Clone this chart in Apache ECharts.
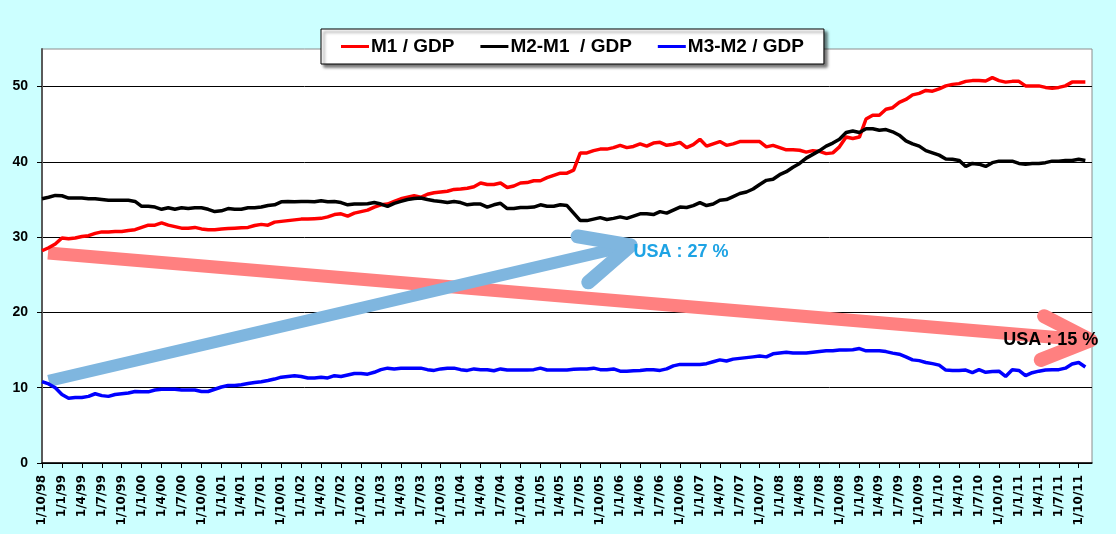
<!DOCTYPE html>
<html>
<head>
<meta charset="utf-8">
<title>M1, M2-M1, M3-M2 / GDP</title>
<script src="https://cdn.jsdelivr.net/npm/echarts@6/dist/echarts.min.js"></script>
<style>
  html, body { margin: 0; padding: 0; background: #ccffff; }
  #chart { width: 1116px; height: 534px; }
</style>
</head>
<body>
<div id="chart"></div>
<script>
// monthly categories, 1/10/98 .. 1/12/11 (label every quarter)
var categories = [];
for (var k = 0; k < 159; k++) {
    var m = (9 + k) % 12 + 1;
    var y = (98 + Math.floor((9 + k) / 12)) % 100;
    categories.push('1/' + m + '/' + (y < 10 ? '0' + y : y));
}

var seriesNames = ['M1 / GDP', 'M2-M1  / GDP', 'M3-M2 / GDP'];

var m1 = [
    28.2, 28.6, 29.1, 29.9, 29.8, 29.9, 30.1, 30.2, 30.5, 30.7, 30.7, 30.75,
    30.75, 30.9, 31.0, 31.3, 31.6, 31.6, 31.9, 31.6, 31.4, 31.2, 31.2, 31.3,
    31.1, 31.0, 31.0, 31.1, 31.15, 31.2, 31.25, 31.3, 31.55, 31.7, 31.6, 32.0,
    32.1, 32.2, 32.3, 32.4, 32.4, 32.45, 32.5, 32.7, 33.0, 33.1, 32.8, 33.2,
    33.4, 33.6, 34.0, 34.3, 34.4, 34.75, 35.1, 35.3, 35.5, 35.3, 35.7, 35.9,
    36.0, 36.1, 36.35, 36.4, 36.5, 36.7, 37.2, 37.0, 37.0, 37.2, 36.6, 36.8,
    37.2, 37.25, 37.5, 37.5, 37.9, 38.2, 38.5, 38.5, 38.9, 41.2, 41.2, 41.5,
    41.7, 41.7, 41.9, 42.2, 41.9, 42.05, 42.4, 42.1, 42.5, 42.6, 42.2, 42.35,
    42.6, 41.9, 42.3, 43.0, 42.1, 42.4, 42.7, 42.2, 42.4, 42.7, 42.7, 42.7,
    42.7, 42.0, 42.2, 41.9, 41.6, 41.6, 41.55, 41.3, 41.5, 41.4, 41.1, 41.2,
    42.0, 43.3, 43.1, 43.3, 45.7, 46.2, 46.2, 47.0, 47.2, 47.9, 48.3, 48.9,
    49.1, 49.5, 49.4, 49.7, 50.1, 50.3, 50.4, 50.7, 50.8, 50.8, 50.75, 51.2,
    50.8, 50.6, 50.7, 50.7, 50.1, 50.1, 50.1, 49.9, 49.8, 49.9, 50.1, 50.6,
    50.6, 50.6
];

var m2m1 = [
    35.1, 35.3, 35.55, 35.5, 35.2, 35.2, 35.2, 35.1, 35.1, 35.0, 34.9, 34.9,
    34.9, 34.9, 34.75, 34.1, 34.1, 34.0, 33.7, 33.9, 33.7, 33.9, 33.8, 33.9,
    33.9, 33.7, 33.4, 33.5, 33.8, 33.7, 33.7, 33.9, 33.9, 34.0, 34.2, 34.3,
    34.7, 34.75, 34.7, 34.75, 34.75, 34.7, 34.85, 34.7, 34.75, 34.6, 34.3, 34.4,
    34.4, 34.45, 34.6, 34.4, 34.1, 34.5, 34.75, 35.0, 35.15, 35.2, 35.0, 34.85,
    34.75, 34.6, 34.75, 34.6, 34.3, 34.4, 34.4, 34.0, 34.3, 34.5, 33.8, 33.8,
    33.95, 33.95, 34.0, 34.3, 34.1, 34.1, 34.3, 34.2, 33.2, 32.2, 32.2, 32.4,
    32.6, 32.35, 32.5, 32.7, 32.5, 32.8, 33.1, 33.1, 33.0, 33.4, 33.2, 33.6,
    34.0, 33.95, 34.2, 34.6, 34.2, 34.4, 34.9, 35.0, 35.4, 35.8, 36.0, 36.4,
    37.0, 37.55, 37.7, 38.3, 38.7, 39.3, 39.8, 40.5, 41.0, 41.5, 42.1, 42.5,
    43.0, 43.9, 44.1, 43.9, 44.4, 44.4, 44.2, 44.3, 44.0, 43.55, 42.8, 42.4,
    42.1, 41.5, 41.2, 40.9, 40.4, 40.35, 40.2, 39.4, 39.8, 39.7, 39.4, 39.9,
    40.1, 40.1, 40.1, 39.8, 39.7, 39.8, 39.8, 39.9, 40.1, 40.1, 40.2, 40.2,
    40.35, 40.2
];

var m3m2 = [
    10.8, 10.5, 10.0, 9.1, 8.6, 8.7, 8.7, 8.85, 9.2, 8.95, 8.85, 9.1,
    9.2, 9.3, 9.5, 9.45, 9.45, 9.7, 9.8, 9.8, 9.8, 9.7, 9.7, 9.7,
    9.5, 9.5, 9.8, 10.1, 10.3, 10.3, 10.4, 10.55, 10.7, 10.8, 10.95, 11.15,
    11.4, 11.5, 11.6, 11.5, 11.3, 11.3, 11.4, 11.3, 11.6, 11.5, 11.7, 11.9,
    11.9, 11.8, 12.05, 12.4, 12.6, 12.5, 12.6, 12.6, 12.6, 12.6, 12.4, 12.3,
    12.5, 12.6, 12.6, 12.4, 12.3, 12.5, 12.4, 12.4, 12.25, 12.5, 12.35, 12.35,
    12.35, 12.35, 12.4, 12.6, 12.35, 12.35, 12.35, 12.35, 12.45, 12.5, 12.5, 12.6,
    12.4, 12.4, 12.5, 12.2, 12.2, 12.25, 12.3, 12.4, 12.4, 12.3, 12.5, 12.9,
    13.1, 13.1, 13.1, 13.1, 13.2, 13.45, 13.7, 13.55, 13.8, 13.9, 14.0, 14.1,
    14.2, 14.1, 14.5, 14.6, 14.7, 14.6, 14.6, 14.6, 14.7, 14.8, 14.9, 14.9,
    15.0, 15.0, 15.05, 15.2, 14.9, 14.9, 14.9, 14.8, 14.6, 14.45, 14.1, 13.7,
    13.6, 13.35, 13.2, 13.0, 12.35, 12.3, 12.3, 12.35, 12.0, 12.4, 12.05, 12.15,
    12.2, 11.5, 12.4, 12.3, 11.6, 12.0, 12.2, 12.35, 12.4, 12.4, 12.6, 13.15,
    13.35, 12.75
];

// annotation arrows, in (month index, value) units
var redArrowShaft = [[0.9, 27.9], [157.6, 16.3]];
var redArrowHead = [[150.8, 19.5], [157.8, 16.3], [150.3, 13.7]];
var blueArrowShaft = [[1.0, 10.9], [88.4, 28.9]];
var blueArrowHead = [[80.6, 30.1], [88.6, 28.9], [82.2, 24.0]];
var arrowLabels = ['USA : 27 %', 'USA : 15 %'];
var arrowLabelAt = [[89.0, 28.0], [151.8, 16.4]];

var chart = echarts.init(document.getElementById('chart'));

function arrow(shaft, head, color, width, headWidth, label, labelAt, labelColor, align) {
    return {
        type: 'custom',
        xAxisIndex: 1,
        z: 1,
        silent: true,
        data: [shaft[0]],
        renderItem: function (params, api) {
            var s = shaft.map(function (p) { return api.coord(p); });
            var h = head.map(function (p) { return api.coord(p); });
            var t = api.coord(labelAt);
            return {
                type: 'group',
                children: [{
                    type: 'polyline',
                    shape: {points: s},
                    style: {stroke: color, lineWidth: width, lineCap: 'butt', fill: null}
                }, {
                    type: 'polyline',
                    shape: {points: h},
                    style: {stroke: color, lineWidth: headWidth, lineCap: 'round', lineJoin: 'round', fill: null}
                }, {
                    type: 'text',
                    x: t[0],
                    y: t[1],
                    z2: 10,
                    style: {
                        text: label,
                        fill: labelColor,
                        font: 'bold 18px "Liberation Sans", Arial, sans-serif',
                        align: align,
                        verticalAlign: 'middle'
                    }
                }]
            };
        }
    };
}

var option = {
    backgroundColor: '#ccffff',
    animation: false,
    grid: {
        left: 42,
        right: 24,
        top: 49,
        bottom: 71,
        show: true,
        backgroundColor: '#ffffff',
        borderColor: '#8c8c8c',
        borderWidth: 1
    },
    legend: {
        data: seriesNames,
        left: 321,
        top: 29,
        padding: [8, 20, 8, 20],
        itemGap: 26,
        itemWidth: 28,
        itemHeight: 3,
        icon: 'rect',
        backgroundColor: '#ffffff',
        borderColor: '#000000',
        borderWidth: 1,
        shadowColor: 'rgba(0,0,0,0.55)',
        shadowBlur: 3,
        shadowOffsetX: 3,
        shadowOffsetY: 3,
        textStyle: {
            color: '#000',
            fontSize: 19,
            fontWeight: 'bold',
            fontFamily: '"Liberation Sans", Arial, sans-serif',
            padding: [0, 0, 0, -3]
        }
    },
    xAxis: [{
        type: 'category',
        data: categories,
        boundaryGap: false,
        axisLine: {lineStyle: {color: '#000', width: 1.5}},
        axisTick: {interval: 2, length: 5, lineStyle: {color: '#000'}},
        axisLabel: {
            interval: 2,
            rotate: 90,
            margin: 12,
            color: '#000',
            fontSize: 12,
            fontWeight: 'bold',
            fontFamily: '"DejaVu Sans", sans-serif'
        },
        splitLine: {show: false}
    }, {
        type: 'value',
        min: 0,
        max: categories.length - 1,
        show: false
    }],
    yAxis: {
        type: 'value',
        min: 0,
        max: 55,
        interval: 10,
        axisLine: {show: true, lineStyle: {color: '#5a5a5a', width: 2}},
        axisTick: {show: true, length: 5, lineStyle: {color: '#000'}},
        axisLabel: {
            showMaxLabel: false,
            margin: 14,
            color: '#000',
            fontSize: 14,
            fontWeight: 'bold',
            fontFamily: '"Liberation Sans", Arial, sans-serif'
        },
        splitLine: {showMaxLine: false, lineStyle: {color: '#000', width: 1}}
    },
    series: [
        arrow(redArrowShaft, redArrowHead, '#ff8080', 13, 14, arrowLabels[1], arrowLabelAt[1], '#000000', 'center'),
        arrow(blueArrowShaft, blueArrowHead, '#7fb6df', 12, 14, arrowLabels[0], arrowLabelAt[0], '#1ea3e4', 'left'),
        {
            name: seriesNames[0], type: 'line', data: m1, z: 3,
            symbol: 'none', lineStyle: {color: '#ff0000', width: 3.5}, itemStyle: {color: '#ff0000'}
        },
        {
            name: seriesNames[1], type: 'line', data: m2m1, z: 3,
            symbol: 'none', lineStyle: {color: '#000000', width: 3.5}, itemStyle: {color: '#000000'}
        },
        {
            name: seriesNames[2], type: 'line', data: m3m2, z: 3,
            symbol: 'none', lineStyle: {color: '#0000ff', width: 3.5}, itemStyle: {color: '#0000ff'}
        }
    ]
};

chart.setOption(option);
</script>
</body>
</html>
